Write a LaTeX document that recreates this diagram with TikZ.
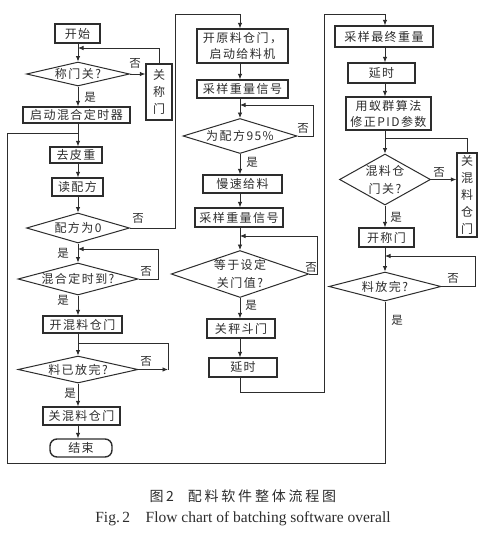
\documentclass[tikz,border=0pt]{standalone}
\usepackage{fontspec}
\setmainfont{Liberation Serif}
\newfontfamily\zh[LetterSpace=12]{Noto Sans CJK SC}
\newfontfamily\zhcap[LetterSpace=20]{Noto Sans CJK SC}
\usetikzlibrary{shapes.geometric,arrows.meta,calc}
\definecolor{ink}{RGB}{45,45,45}
\begin{document}
\begin{tikzpicture}[x=1pt,y=-1pt,
  box/.style={draw=ink,line width=1.4pt,rectangle,inner sep=0pt,align=center,
    font=\zh\fontsize{12}{16}\selectfont,text=ink},
  vbox/.style={box,font=\zh\fontsize{12}{17}\selectfont},
  dia/.style={draw=ink,line width=1pt,diamond,inner sep=0pt,align=center,
    font=\zh\fontsize{12}{18}\selectfont,text=ink},
  endbox/.style={box,rounded corners=7pt},
  ln/.style={draw=ink,line width=0.8pt},
  arr/.style={ln,-{Latex[length=5.5pt,width=4.5pt]}},
  lab/.style={font=\zh\fontsize{11.5}{14}\selectfont,text=ink,inner sep=0pt}]
\useasboundingbox (0,0) rectangle (487,536);
\fill[white] (0,0) rectangle (487,536);
\coordinate (L) at (78,0);
\coordinate (M) at (240,0);
\coordinate (R) at (385,0);
% ---------- left column
\node[box,minimum width=45pt,minimum height=19pt] (start) at (77.5,33.5) {开始};
\node[dia,minimum width=103pt,minimum height=24pt,aspect=4.3] (d1) at (78,74) {称门关?};
\node[vbox,minimum width=26pt,minimum height=56pt] (gate1) at (159,92) {关\\称\\门};
\node[box,minimum width=107pt,minimum height=16pt] (timer) at (76.5,115) {启动混合定时器};
\node[box,minimum width=52pt,minimum height=16pt] (tare) at (76,155) {去皮重};
\node[box,minimum width=51pt,minimum height=18pt] (read) at (77.5,187) {读配方};
\node[dia,minimum width=103pt,minimum height=30pt,aspect=3.4] (d2) at (78,228) {配方为0};
\node[dia,minimum width=120pt,minimum height=32pt,aspect=3.75] (d3) at (78,279) {混合定时到?};
\node[box,minimum width=79pt,minimum height=17pt] (openmix) at (82.5,324.5) {开混料仓门};
\node[dia,minimum width=120pt,minimum height=27pt,aspect=4.4] (d4) at (78,369.5) {料已放完?};
\node[box,minimum width=77pt,minimum height=18pt] (closemix) at (81.5,416) {关混料仓门};
\node[endbox,minimum width=62pt,minimum height=18pt] (end) at (81,448) {结束};
% ---------- middle column
\node[box,minimum width=91pt,minimum height=34pt] (open) at (242.5,46) {开原料仓门，\\启动给料机};
\node[box,minimum width=91pt,minimum height=18pt] (samp1) at (242.5,89) {采样重量信号};
\node[dia,minimum width=114pt,minimum height=35pt,aspect=3.26] (d5) at (240,136) {为配方95\%};
\node[box,minimum width=79pt,minimum height=18pt] (slow) at (242.5,184) {慢速给料};
\node[box,minimum width=88pt,minimum height=19pt] (samp2) at (239,217.5) {采样重量信号};
\node[dia,minimum width=135pt,minimum height=46pt,aspect=2.93] (d6) at (240,274) {等于设定\\关门值?};
\node[box,minimum width=68pt,minimum height=19pt] (closeh) at (241,328.5) {关秤斗门};
\node[box,minimum width=68pt,minimum height=19pt] (delay1) at (243,367.5) {延时};
% ---------- right column
\node[box,minimum width=98pt,minimum height=21pt] (final) at (384,36.5) {采样最终重量};
\node[box,minimum width=67pt,minimum height=20pt] (delay2) at (381.5,73) {延时};
\node[box,minimum width=85pt,minimum height=33pt] (aco) at (388.5,113.5) {用蚁群算法\\修正PID参数};
\node[dia,minimum width=91pt,minimum height=51pt,aspect=1.78] (d7) at (385,179.5) {混料仓\\门关?};
\node[vbox,minimum width=20pt,minimum height=84pt] (gate2) at (467,195) {关\\混\\料\\仓\\门};
\node[box,minimum width=55pt,minimum height=19pt] (opensc) at (386.5,237.5) {开称门};
\node[dia,minimum width=112pt,minimum height=29pt,aspect=3.86] (d8) at (385,286.5) {料放完?};
% ---------- coordinates
\coordinate (c1) at (78,48);
\coordinate (c2) at (175,14);
\coordinate (c3) at (158,249);
\coordinate (c4) at (168,343);
\coordinate (c5) at (313,105);
\coordinate (c6) at (317,236);
\coordinate (c7a) at (324,392);
\coordinate (c7b) at (324,14);
\coordinate (c8) at (467,138);
\coordinate (c9) at (475,256);
\coordinate (c10) at (7,463);
\coordinate (c11) at (7,133);
% ---------- left connectors
\draw[arr] (L |- start.south) -- (d1.north);
\draw[arr] (gate1.north) |- (c1);
\draw[arr] (d1.east) -- (gate1.west |- d1.east);
\draw[arr] (d1.south) -- (L |- timer.north);
\draw[arr] (L |- timer.south) -- (L |- tare.north);
\draw[arr] (L |- tare.south) -- (L |- read.north);
\draw[arr] (L |- read.south) -- (d2.north);
\draw[arr] (d2.east) -| (c2) -| (M |- open.north);
\draw[arr] (d2.south) -- (d3.north);
\draw[arr] (d3.east) -| (c3) -- (L |- c3);
\draw[arr] (d3.south) -- (L |- openmix.north);
\draw[arr] (L |- openmix.south) -- (d4.north);
\draw[ln] (L |- c4) -- (c4) -- (c4 |- d4.east);
\draw[arr] (d4.east) -- (c4 |- d4.east);
\draw[arr] (d4.south) -- (L |- closemix.north);
\draw[arr] (L |- closemix.south) -- (L |- end.north);
% ---------- middle connectors
\draw[arr] (M |- open.south) -- (M |- samp1.north);
\draw[arr] (M |- samp1.south) -- (d5.north);
\draw[arr] (d5.east) -| (c5) -- (M |- c5);
\draw[arr] (d5.south) -- (M |- slow.north);
\draw[arr] (M |- slow.south) -- (M |- samp2.north);
\draw[arr] (M |- samp2.south) -- (d6.north);
\draw[arr] (d6.east) -| (c6) -- (M |- c6);
\draw[arr] (d6.south) -- (M |- closeh.north);
\draw[arr] (M |- closeh.south) -- (M |- delay1.north);
\draw[arr] (M |- delay1.south) |- (c7a) -- (c7b) -| (R |- final.north);
% ---------- right connectors
\draw[arr] (R |- final.south) -- (R |- delay2.north);
\draw[arr] (R |- delay2.south) -- (R |- aco.north);
\draw[arr] (R |- aco.south) -- (d7.north);
\draw[ln] (gate2.north) |- (R |- c8);
\draw[arr] (d7.east) -- (gate2.west |- d7.east);
\draw[arr] (d7.south) -- (R |- opensc.north);
\draw[arr] (R |- opensc.south) -- (d8.north);
\draw[arr] (d8.east) -| (c9) -- (R |- c9);
\draw[ln] (d8.south) |- (c10) -- (c11) -- (L |- c11);
% ---------- labels
\node[lab] (n1) at (135,63) {否};
\node[lab] (y1) at (90,97) {是};
\node[lab] (n2) at (138,218) {否};
\node[lab] (y2) at (63,253) {是};
\node[lab] (n3) at (146,271) {否};
\node[lab] (y3) at (63,300) {是};
\node[lab] (n4) at (146,361) {否};
\node[lab] (y4) at (70,393) {是};
\node[lab] (n5) at (303,128) {否};
\node[lab] (y5) at (252,162) {是};
\node[lab] (n6) at (311,267) {否};
\node[lab] (y6) at (251,305) {是};
\node[lab] (n7) at (439,172) {否};
\node[lab] (y7) at (396,217) {是};
\node[lab] (n8) at (453,278) {否};
\node[lab] (y8) at (397,320) {是};
% ---------- caption
\node[font=\zhcap\fontsize{14}{16}\selectfont,text=ink,inner sep=0pt] (cap1) at (243,496) {图\,2\quad 配料软件整体流程图};
\node[font=\fontsize{15.5}{17}\selectfont,text=ink,inner sep=0pt] (cap2) at (243,519) {Fig.\,2\quad Flow chart of batching software overall};
\end{tikzpicture}
\end{document}
